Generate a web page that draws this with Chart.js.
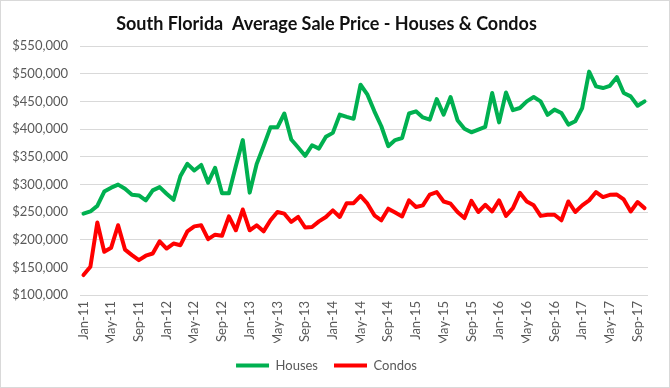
<!DOCTYPE html>
<html><head><meta charset="utf-8">
<script src="https://cdn.jsdelivr.net/npm/chart.js@4.4.0/dist/chart.umd.min.js"></script>
<style>
html,body{margin:0;padding:0;background:#fff;}
#wrap{position:relative;width:670px;height:388px;box-sizing:border-box;border:1px solid #d9d9d9;background:#fff;}
</style></head><body>
<div id="wrap"><canvas id="c"></canvas></div>
<script>
const months = ['Jan-11','Feb-11','Mar-11','Apr-11','May-11','Jun-11','Jul-11','Aug-11','Sep-11','Oct-11','Nov-11','Dec-11',
'Jan-12','Feb-12','Mar-12','Apr-12','May-12','Jun-12','Jul-12','Aug-12','Sep-12','Oct-12','Nov-12','Dec-12',
'Jan-13','Feb-13','Mar-13','Apr-13','May-13','Jun-13','Jul-13','Aug-13','Sep-13','Oct-13','Nov-13','Dec-13',
'Jan-14','Feb-14','Mar-14','Apr-14','May-14','Jun-14','Jul-14','Aug-14','Sep-14','Oct-14','Nov-14','Dec-14',
'Jan-15','Feb-15','Mar-15','Apr-15','May-15','Jun-15','Jul-15','Aug-15','Sep-15','Oct-15','Nov-15','Dec-15',
'Jan-16','Feb-16','Mar-16','Apr-16','May-16','Jun-16','Jul-16','Aug-16','Sep-16','Oct-16','Nov-16','Dec-16',
'Jan-17','Feb-17','Mar-17','Apr-17','May-17','Jun-17','Jul-17','Aug-17','Sep-17','Oct-17'];

const houses = [247000,251000,261000,287000,294000,299500,292000,281000,280000,271000,289000,295000,
283000,272000,315000,337000,325000,335000,303000,330000,284000,284000,333000,380000,
285000,336500,369000,403000,403000,428000,381000,366500,351500,370600,364600,386000,
393000,426000,422000,418400,480000,462000,432000,405000,369000,380000,383700,428000,
432000,421000,417000,454000,426000,457700,416000,400500,394000,399000,404000,465000,
412000,466000,434000,438000,450000,457700,450000,425600,435000,429000,408000,414000,
438000,503700,477000,474000,478000,493700,465000,459000,442000,450000];

const condos = [136000,151000,231000,178000,185500,226000,182000,172000,163000,171000,175000,197000,
184000,193000,190000,215000,224000,226000,201000,209000,207000,242000,217000,254500,
217000,226000,215000,235000,250000,247000,232000,241000,222000,223000,233000,241000,
253000,241000,266000,266000,279000,265000,244000,235000,256000,249000,242000,271000,
259000,262000,281600,286000,269000,265000,250000,239000,270000,250000,263000,251000,
271000,243000,257000,284600,269000,262000,243000,245000,245000,235000,269000,250000,
262000,271000,286000,277000,281000,281600,272600,251000,268000,257000];

const yTicks = [100000,150000,200000,250000,300000,350000,400000,450000,500000,550000];

const FONT = 'Lato';
new Chart(document.getElementById('c'), {
  type: 'line',
  data: {
    labels: months,
    datasets: [
      {label:'Houses', data:houses, borderColor:'#00B050', backgroundColor:'#00B050', borderWidth:4,
       pointRadius:0, tension:0, borderCapStyle:'round', borderJoinStyle:'round'},
      {label:'Condos', data:condos, borderColor:'#FF0000', backgroundColor:'#FF0000', borderWidth:4,
       pointRadius:0, tension:0, borderCapStyle:'round', borderJoinStyle:'round'}
    ]
  },
  options: {
    responsive:true, maintainAspectRatio:false, animation:false,
    layout:{padding:{left:4,right:21,top:0,bottom:5}},
    plugins:{
      title:{display:true, text:'South Florida  Average Sale Price - Houses & Condos', color:'#111',
        font:{family:FONT, size:18, weight:'bold'}, padding:{top:12,bottom:11.4}},
      legend:{position:'bottom', labels:{usePointStyle:true, pointStyle:'line', pointStyleWidth:33,
        boxHeight:13, color:'#595959', font:{family:FONT, size:13}, padding:16}},
      tooltip:{enabled:false}
    },
    scales:{
      x:{offset:true, grid:{display:false, drawTicks:false}, border:{display:false},
        ticks:{autoSkip:false, minRotation:90, maxRotation:90, color:'#595959', padding:6,
          font:{family:FONT, size:13}, callback:(v,i)=> i%4===0 ? months[i] : ''},
        afterFit(s){ s.height = 48; }},
      y:{min:yTicks[0], max:yTicks[yTicks.length-1],
        afterBuildTicks(s){ s.ticks = yTicks.map(v=>({value:v})); },
        grid:{color:'#d9d9d9', drawTicks:false}, border:{display:false},
        ticks:{color:'#595959', padding:12, font:{family:FONT, size:13},
          callback:v=>'$'+Number(v).toLocaleString('en-US')},
        afterFit(s){ s.width = 75; }}
    }
  }
});
</script>
</body></html>
